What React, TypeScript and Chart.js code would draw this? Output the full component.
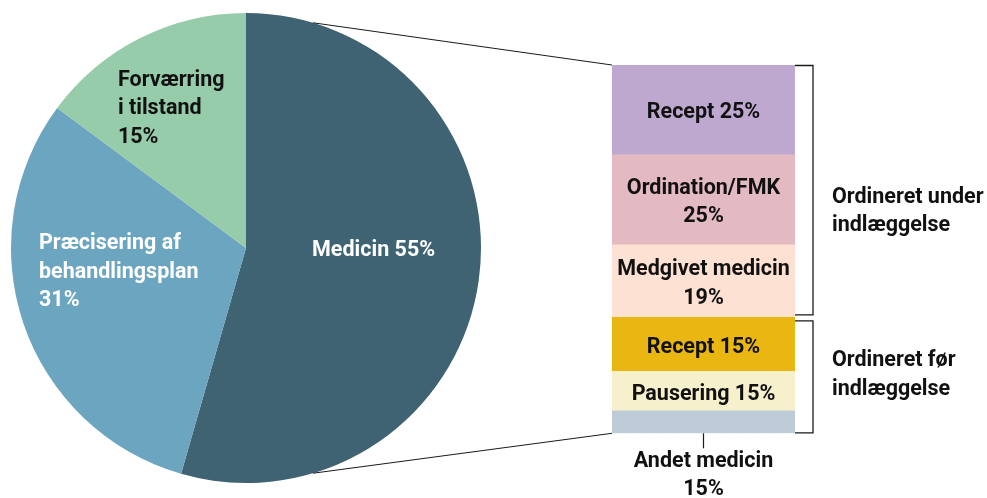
import React, { useEffect, useRef } from 'react';
import { Chart, registerables } from 'chart.js';

Chart.register(...registerables);

// ---------- Pie data ----------
const pieCategories = ['Medicin', 'Præcisering af behandlingsplan', 'Forværring i tilstand'];
const pieValues = [55, 31, 15];
const pieColors = ['#3F6373', '#6CA5C0', '#96CCAA'];
const pieLabelLines = [
  ['Medicin 55%'],
  ['Præcisering af', 'behandlingsplan', '31%'],
  ['Forværring', 'i tilstand', '15%'],
];
const pieLabelColors = ['#FFFFFF', '#FFFFFF', '#111111'];
// left edge / first baseline offsets from pie centre, in units of the radius
const pieLabelAnchors = [
  [0.281, 0.034],
  [-0.881, 0.006],
  [-0.545, -0.689],
];

// ---------- Breakdown bar data (top to bottom) ----------
const barCategories = ['Recept', 'Ordination/FMK', 'Medgivet medicin', 'Recept', 'Pausering', 'Andet medicin'];
const barValues = [24.4, 24.4, 19.7, 14.7, 10.7, 6.1];
const barPercentLabels = ['25%', '25%', '19%', '15%', '15%', '15%'];
const barLabelLines = [
  ['Recept 25%'],
  ['Ordination/FMK', '25%'],
  ['Medgivet medicin', '19%'],
  ['Recept 15%'],
  ['Pausering 15%'],
  [],
];
const outsideLabelLines = ['Andet medicin', '15%'];
const barColors = ['#BFA8D0', '#E3B9C2', '#FDE1D3', '#EAB712', '#F6F0CC', '#BECCD9'];
const groupLabels = [
  ['Ordineret under', 'indlæggelse'],
  ['Ordineret før', 'indlæggelse'],
];
const groupSegments = [
  [0, 2],
  [3, 5],
];
const groupShift = [19.5, -3.7];

const CONNECTOR_ANGLE_DEG = 16.6;
const FONT = 'bold 21.5px Roboto, "Noto Sans", sans-serif';
const LINE_H = 28.4;

export default function App() {
  const pieRef = useRef<HTMLCanvasElement>(null);
  const barRef = useRef<HTMLCanvasElement>(null);

  useEffect(() => {
    document.body.style.margin = '0';
    const pieLabelPlugin = {
      id: 'pieLabels',
      afterDraw(chart: any) {
        const ctx = chart.ctx;
        const arc = chart.getDatasetMeta(0).data[0];
        const cx = arc.x;
        const cy = arc.y;
        const r = arc.outerRadius;
        ctx.save();
        ctx.font = FONT;
        ctx.textAlign = 'left';
        ctx.textBaseline = 'alphabetic';
        pieLabelLines.forEach((lines, i) => {
          ctx.fillStyle = pieLabelColors[i];
          const x = cx + pieLabelAnchors[i][0] * r;
          const y = cy + pieLabelAnchors[i][1] * r;
          lines.forEach((t, j) => ctx.fillText(t, x, y + j * LINE_H));
        });
        ctx.restore();
      },
    };

    const pie = new Chart(pieRef.current!, {
      type: 'pie',
      data: {
        labels: pieCategories,
        datasets: [{ data: pieValues, backgroundColor: pieColors, borderWidth: 0 }],
      },
      options: {
        responsive: false,
        animation: false,
        layout: { padding: { left: 11, top: 13, right: 506, bottom: 15 } },
        plugins: { legend: { display: false }, tooltip: { enabled: false } },
      },
      plugins: [pieLabelPlugin],
    });

    const order = barValues.map((_, i) => i).reverse(); // bottom to top
    const barOverlay = {
      id: 'barOverlay',
      afterDraw(chart: any) {
        const ctx = chart.ctx;
        const metas = order.map((_, k) => chart.getDatasetMeta(k));
        // segment geometry indexed top to bottom
        const seg = barValues.map((_, i) => {
          const k = order.indexOf(i);
          const el = metas[k].data[0];
          const top = Math.min(el.y, el.base);
          const bottom = Math.max(el.y, el.base);
          return { top, bottom, left: el.x - el.width / 2, right: el.x + el.width / 2, cx: el.x };
        });
        const barTop = seg[0].top;
        const barBottom = seg[seg.length - 1].bottom;
        const left = seg[0].left;
        const right = seg[0].right;
        const cxBar = seg[0].cx;

        ctx.save();
        // connectors from pie
        const arc = pie.getDatasetMeta(0).data[0] as any;
        const a = (CONNECTOR_ANGLE_DEG * Math.PI) / 180;
        const px = arc.x + arc.outerRadius * Math.sin(a);
        const pyTop = arc.y - arc.outerRadius * Math.cos(a);
        const pyBot = arc.y + arc.outerRadius * Math.cos(a);
        ctx.strokeStyle = '#1a1a1a';
        ctx.lineWidth = 1;
        ctx.beginPath();
        ctx.moveTo(px, pyTop);
        ctx.lineTo(left, barTop);
        ctx.moveTo(px, pyBot);
        ctx.lineTo(left, barBottom);
        ctx.stroke();

        // brackets
        ctx.lineWidth = 1.3;
        const bx = right + 18;
        const brackets = groupSegments.map(([s, e], g) => {
          let t = seg[s].top;
          let b = seg[e].bottom;
          if (g === 0) b -= 2;
          else t += 3;
          return [t, b];
        });
        brackets.forEach(([t, b]) => {
          ctx.beginPath();
          ctx.moveTo(right, t + 0.5);
          ctx.lineTo(bx, t + 0.5);
          ctx.lineTo(bx, b - 0.5);
          ctx.lineTo(right, b - 0.5);
          ctx.stroke();
        });

        // tick under bar
        ctx.lineWidth = 1.2;
        ctx.beginPath();
        ctx.moveTo(cxBar, barBottom);
        ctx.lineTo(cxBar, barBottom + 15);
        ctx.stroke();

        // labels in segments
        ctx.font = FONT;
        ctx.fillStyle = '#111111';
        ctx.textAlign = 'center';
        ctx.textBaseline = 'alphabetic';
        const cap = 15;
        barLabelLines.forEach((lines, i) => {
          if (!lines.length) return;
          const mid = (seg[i].top + seg[i].bottom) / 2;
          const first = mid + cap / 2 - ((lines.length - 1) * LINE_H) / 2;
          lines.forEach((t, j) => ctx.fillText(t, seg[i].cx, first + j * LINE_H + 1));
        });
        // outside label
        outsideLabelLines.forEach((t, j) => ctx.fillText(t, cxBar, barBottom + 33.5 + j * LINE_H));

        // group labels
        ctx.textAlign = 'left';
        groupLabels.forEach((lines, g) => {
          const [t, b] = brackets[g];
          const mid = (t + b) / 2 + groupShift[g];
          const first = mid + cap / 2 - ((lines.length - 1) * LINE_H) / 2;
          lines.forEach((s, j) => ctx.fillText(s, bx + 19, first + j * LINE_H));
        });
        ctx.restore();
      },
    };

    const total = barValues.reduce((s, v) => s + v, 0);
    const bar = new Chart(barRef.current!, {
      type: 'bar',
      data: {
        labels: ['Medicin'],
        datasets: order.map((i) => ({
          label: barCategories[i] + ' ' + barPercentLabels[i],
          data: [barValues[i]],
          backgroundColor: barColors[i],
          borderWidth: 0,
          barPercentage: 1,
          categoryPercentage: 1,
        })),
      },
      options: {
        responsive: false,
        animation: false,
        layout: { padding: { left: 612, right: 192, top: 65, bottom: 64.7 } },
        scales: {
          x: { display: false, stacked: true },
          y: { display: false, stacked: true, min: 0, max: total },
        },
        plugins: { legend: { display: false }, tooltip: { enabled: false } },
      },
      plugins: [barOverlay],
    });

    return () => {
      bar.destroy();
      pie.destroy();
    };
  }, []);

  return (
    <div style={{ position: 'absolute', left: 0, top: 0, width: 987, height: 498, background: '#fff' }}>
      <canvas ref={pieRef} width={987} height={498} style={{ position: 'absolute', left: 0, top: 0 }} />
      <canvas ref={barRef} width={987} height={498} style={{ position: 'absolute', left: 0, top: 0 }} />
    </div>
  );
}
